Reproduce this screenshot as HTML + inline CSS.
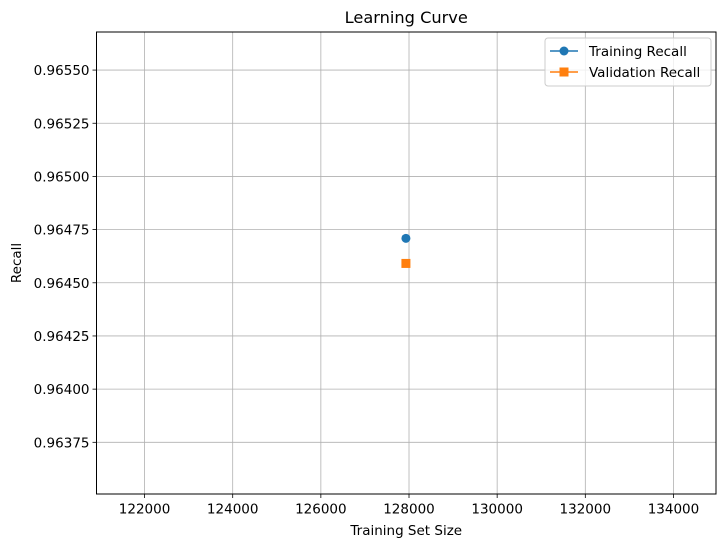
<!DOCTYPE html>
<html><head><meta charset="utf-8"><style>body{margin:0;background:#fff}svg text{font-family:"DejaVu Sans","Liberation Sans",sans-serif;fill:#000}</style></head>
<body>
<svg id="chart" width="726" height="547" xmlns="http://www.w3.org/2000/svg"></svg>
<script>
const xTicks = [122000,124000,126000,128000,130000,132000,134000];
const yTicks = [0.96375,0.96400,0.96425,0.96450,0.96475,0.96500,0.96525,0.96550];
const trainSizes = [127930];
const trainRecall = [0.964709];
const valRecall = [0.964591];
const L=96.5,R=716,T=32,B=494;
const X0=120910,X1=134965,Y0=0.963507,Y1=0.965679;
const sx=v=>L+(v-X0)/(X1-X0)*(R-L);
const sy=v=>B-(v-Y0)/(Y1-Y0)*(B-T);
const svg=document.getElementById('chart');
const NS='http://www.w3.org/2000/svg';
function mk(tag,attrs,parent){const e=document.createElementNS(NS,tag);for(const k in attrs)e.setAttribute(k,attrs[k]);(parent||svg).appendChild(e);return e;}
xTicks.forEach(t=>{const x=sx(t);
 const g=mk('line',{x1:x,x2:x,y1:T,y2:B,stroke:'#b0b0b0','stroke-width':0.8});
 
 
 mk('line',{x1:x,x2:x,y1:B,y2:B+4,stroke:'#000','stroke-width':0.8});
 const tx=mk('text',{x:x,y:B+19.5,'text-anchor':'middle','font-size':'13.5'});tx.textContent=t;
 
 
});
yTicks.forEach(t=>{const y=sy(t);
 const g=mk('line',{x1:L,x2:R,y1:y,y2:y,stroke:'#b0b0b0','stroke-width':0.8});
 
 
 mk('line',{x1:L-4,x2:L,y1:y,y2:y,stroke:'#000','stroke-width':0.8});
 const tx=mk('text',{x:L-7,y:y+5,'text-anchor':'end','font-size':'13.5'});tx.textContent=t.toFixed(5);
 
 
});
const fr=mk('rect',{x:L,y:T,width:R-L,height:B-T,fill:'none',stroke:'#000','stroke-width':1});


trainSizes.forEach((s,i)=>{
 const c=mk('circle',{cx:sx(s),cy:sy(trainRecall[i]),r:4.5,fill:'#1f77b4'});
 
 
 const q=mk('rect',{x:sx(s)-4.5,y:sy(valRecall[i])-4.5,width:9,height:9,fill:'#ff7f0e'});
 
 
});
const ti=mk('text',{x:(L+R)/2,y:T-9,'text-anchor':'middle','font-size':'16.2'});ti.textContent='Learning Curve';


const xl=mk('text',{x:(L+R)/2,y:535,'text-anchor':'middle','font-size':'13.5'});xl.textContent='Training Set Size';


const yl=mk('text',{x:21,y:(T+B)/2,'text-anchor':'middle','font-size':'13.5',transform:`rotate(-90 21 ${(T+B)/2})`});yl.textContent='Recall';


const lg=mk('g',{});


mk('rect',{x:545,y:38,width:166,height:48,rx:3,fill:'#fff','fill-opacity':0.8,stroke:'#ccc'},lg);
mk('line',{x1:550,x2:578,y1:51,y2:51,stroke:'#1f77b4','stroke-width':1.5},lg);
mk('circle',{cx:564,cy:51,r:4.5,fill:'#1f77b4'},lg);
const t1=mk('text',{x:589,y:56,'font-size':'13.5'},lg);t1.textContent='Training Recall';


mk('line',{x1:550,x2:578,y1:72,y2:72,stroke:'#ff7f0e','stroke-width':1.5},lg);
mk('rect',{x:559.5,y:67.5,width:9,height:9,fill:'#ff7f0e'},lg);
const t2=mk('text',{x:589,y:77,'font-size':'13.5'},lg);t2.textContent='Validation Recall';


</script>
</body></html>
